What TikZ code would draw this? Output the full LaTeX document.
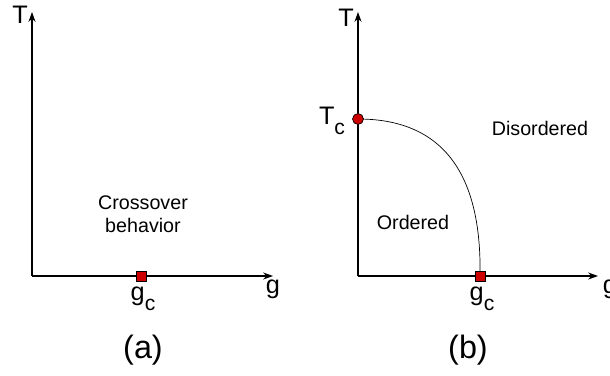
\documentclass[tikz,border=0pt]{standalone}
\usepackage{fontspec}
\setmainfont{Liberation Sans}
\usetikzlibrary{arrows.meta,positioning}

\newcommand{\lowsub}[1]{\raisebox{-0.4em}{\fontsize{15}{16}\selectfont #1}}

\begin{document}
\begin{tikzpicture}[x=0.025cm, y=-0.025cm,
    axis/.style={line width=0.9pt, -{Stealth[length=7pt,width=5pt]}},
    crit/.style={draw=black, line width=0.4pt, fill=red!80!black, minimum size=0.25cm, inner sep=0pt},
    tpoint/.style={circle, draw=black, line width=0.4pt, fill=red!80!black, minimum size=0.27cm, inner sep=0pt},
    lbl/.style={font=\fontsize{18}{20}\selectfont, inner sep=0pt},
    region/.style={font=\fontsize{14}{16}\selectfont, align=center, inner sep=0pt},
    panel/.style={font=\fontsize{23}{26}\selectfont, inner sep=0pt}]
    \useasboundingbox (0,0) rectangle (610,375);

    % --- Panel (a) ---
    \coordinate (oa) at (32,276);
    \coordinate (ta) at (32,12);
    \coordinate (ga) at (273,276);
    \draw[axis] (oa) -- (ta);
    \draw[axis] (oa) -- (ga);
    \node[lbl] (Ta) at (20,15) {T};
    \node[lbl, anchor=base] (gla) at (273,293) {g};
    \node[crit] (gca) at (141,276) {};
    \node[lbl, anchor=base] (gcla) at (143,300) {g\lowsub{c}};
    \node[region] (cross) at (143,214) {Crossover\\behavior};
    \node[panel] (pa) at (143,350) {(a)};

    % --- Panel (b) ---
    \coordinate (ob) at (358,276);
    \coordinate (tb) at (358,12);
    \coordinate (gb) at (598,276);
    \draw[axis] (ob) -- (tb);
    \draw[axis] (ob) -- (gb);
    \node[lbl] (Tb) at (346,18) {T};
    \node[lbl, anchor=base] (glb) at (610,293) {g};
    \node[tpoint] (tc) at (358,119) {};
    \node[crit] (gcb) at (480,276) {};
    \draw[line width=0.5pt] (tc.center) .. controls (440,119) and (482,170) .. (gcb.center);
    \node[crit] at (gcb) {};
    \node[tpoint] at (tc) {};
    \node[lbl, anchor=base] (tcl) at (332,124) {T\lowsub{c}};
    \node[lbl, anchor=base] (gclb) at (482,300) {g\lowsub{c}};
    \node[region] (dis) at (540,128) {Disordered};
    \node[region] (ord) at (413,222) {Ordered};
    \node[panel] (pb) at (468,350) {(b)};
\end{tikzpicture}
\end{document}
